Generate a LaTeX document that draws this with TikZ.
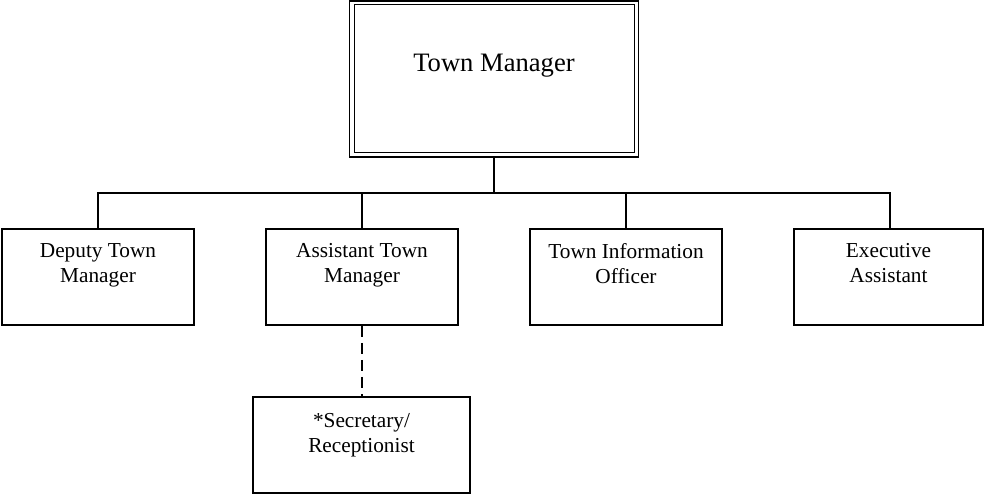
\documentclass[tikz,border=0pt]{standalone}
\usepackage{fontspec}
\setmainfont{Liberation Serif}
\begin{document}
\begin{tikzpicture}[x=1pt,y=-1pt,
  box/.style={draw,line width=1.6pt,minimum width=192pt,minimum height=96pt,inner sep=0pt},
  lbl/.style={align=center,inner sep=0pt,anchor=north,font=\fontsize{21.3}{25}\selectfont},
  link/.style={line width=1.6pt},
  dlink/.style={line width=1.6pt,dash pattern=on 11pt off 6pt}]
\useasboundingbox (0,0) rectangle (985,495);
% top box (double border)
\node[draw,line width=1.6pt,minimum width=289pt,minimum height=156pt,inner sep=0pt] (top) at (494,79) {};
\node[draw,line width=1pt,minimum width=280pt,minimum height=147pt,inner sep=0pt] (topin) at (494,78.5) {};
\node[anchor=base,inner sep=0pt,font=\fontsize{26.6}{30}\selectfont] (topT) at (494,71) {Town Manager};
% second row
\node[box] (dep) at (98,277) {};
\node[box] (asst) at (362,277) {};
\node[box] (info) at (626,277) {};
\node[box,minimum width=189pt] (exe) at (888.5,277) {};
\node[lbl] (depT) at (98,243.5) {Deputy Town\\Manager};
\node[lbl] (asstT) at (362,243.5) {Assistant Town\\Manager};
\node[lbl] (infoT) at (626,243.5) {Town Information\\Officer};
\node[lbl] (exeT) at (888.5,243.5) {Executive\\Assistant};
% bottom box
\node[box,minimum width=217pt] (sec) at (361.5,445) {};
\node[lbl] (secT) at (361.5,413) {*Secretary/\\Receptionist};
% connectors
\coordinate (bus) at (494,193);
\draw[link] (top.south) -- (bus);
\draw[link] (dep.north) -- (dep.north |- bus) -- (890,193 |- bus) coordinate (busR) -- (busR |- exe.north);
\draw[link] (asst.north) -- (asst.north |- bus);
\draw[link] (info.north) -- (info.north |- bus);
\draw[dlink] (asst.south) -- (asst.south |- sec.north);
\end{tikzpicture}
\end{document}
